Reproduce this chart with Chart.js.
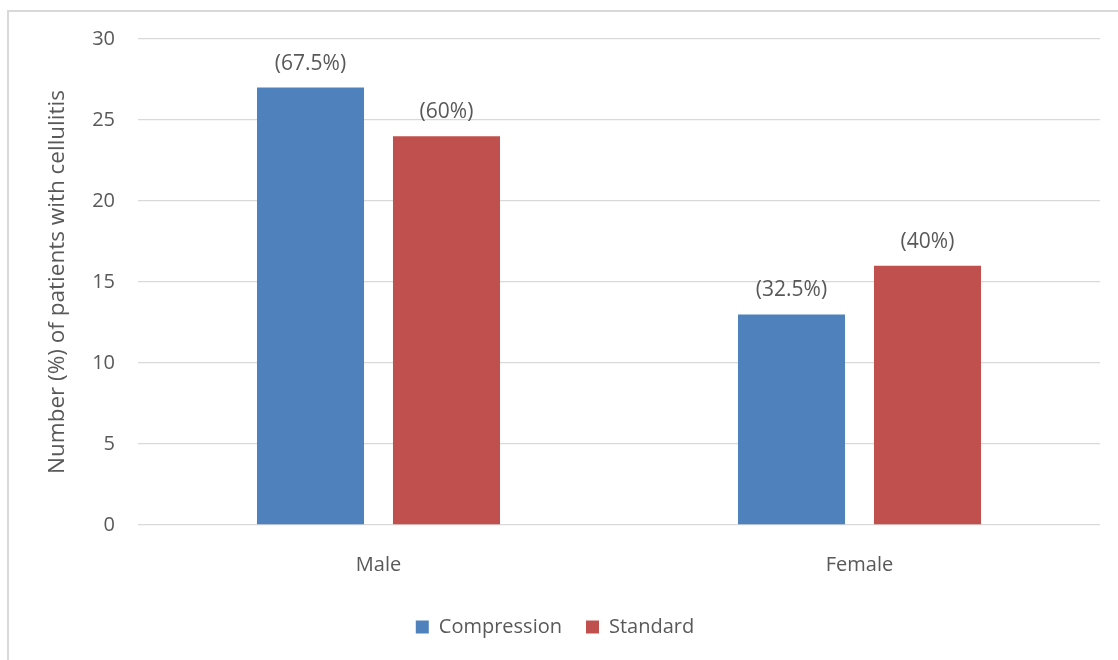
<!DOCTYPE html>
<html>
<head>
<meta charset="utf-8">
<script src="https://cdn.jsdelivr.net/npm/chart.js@4.4.1/dist/chart.umd.min.js"></script>
<style>
  html, body { margin: 0; padding: 0; background: #ffffff; }
  #wrap { position: relative; width: 1118px; height: 660px; }
</style>
</head>
<body>
<div id="wrap"><canvas id="chart" width="1118" height="660"></canvas></div>
<script>
// Cellulitis by sex, per treatment arm
const categories = ['Male', 'Female'];
const compression = [27, 13];
const standard = [24, 16];
const compressionPct = [67.5, 32.5];
const standardPct = [60, 40];
const yTicks = [0, 5, 10, 15, 20, 25, 30];

const TEXT = '#595959';
const GRID = '#d9d9d9';
const FONT = "'Open Sans', sans-serif";

// Light frame around the chart (top and left edges)
const framePlugin = {
  id: 'frame',
  beforeDraw(chart) {
    const ctx = chart.ctx;
    ctx.save();
    ctx.strokeStyle = GRID;
    ctx.lineWidth = 2;
    ctx.beginPath();
    ctx.moveTo(8, 660);
    ctx.lineTo(8, 11);
    ctx.lineTo(1118, 11);
    ctx.stroke();
    ctx.restore();
  }
};

// Percentage labels above each bar
const pctLabels = [compressionPct, standardPct];
const pctPlugin = {
  id: 'pctLabels',
  afterDatasetsDraw(chart) {
    const ctx = chart.ctx;
    ctx.save();
    ctx.fillStyle = TEXT;
    ctx.font = '21px ' + FONT;
    ctx.textAlign = 'center';
    ctx.textBaseline = 'middle';
    chart.data.datasets.forEach((ds, di) => {
      const meta = chart.getDatasetMeta(di);
      meta.data.forEach((bar, i) => {
        ctx.fillText('(' + pctLabels[di][i] + '%)', bar.x, bar.y - 24);
      });
    });
    ctx.restore();
  }
};

// Fixed height for the legend band at the bottom
const legendBand = {
  id: 'legendBand',
  afterInit(chart) {
    const lg = chart.legend;
    if (!lg) return;
    const fit = lg.fit.bind(lg);
    lg.fit = function () { fit(); this.height = 67; };
  }
};

new Chart(document.getElementById('chart'), {
  type: 'bar',
  data: {
    labels: categories,
    datasets: [
      { label: 'Compression', data: compression, backgroundColor: '#4f81bd',
        categoryPercentage: 0.5655, barPercentage: 0.787 },
      { label: 'Standard', data: standard, backgroundColor: '#c0504d',
        categoryPercentage: 0.5655, barPercentage: 0.787 }
    ]
  },
  options: {
    responsive: false,
    animation: false,
    layout: { padding: { top: 39, left: 10, right: 18, bottom: 0 } },
    scales: {
      x: {
        grid: { display: false },
        border: { display: false },
        ticks: { color: TEXT, font: { family: FONT, size: 20 }, padding: 20 },
        afterFit(scale) { scale.height = 68; }
      },
      y: {
        min: 0, max: 30,
        afterBuildTicks(scale) { scale.ticks = yTicks.map(v => ({ value: v })); },
        grid: { color: GRID, lineWidth: 1.3, drawTicks: false },
        border: { display: false },
        ticks: { color: TEXT, font: { family: FONT, size: 20 }, padding: 23 },
        title: {
          display: true,
          text: 'Number (%) of patients with cellulitis',
          color: TEXT,
          font: { family: FONT, size: 22.5 },
          padding: { top: 34, bottom: 0 }
        },
        afterFit(scale) { scale.width = 128; }
      }
    },
    plugins: {
      legend: {
        position: 'bottom',
        labels: {
          color: TEXT,
          font: { family: FONT, size: 20 },
          boxWidth: 13, boxHeight: 13,
          padding: 24
        }
      },
      tooltip: { enabled: false }
    }
  },
  plugins: [framePlugin, pctPlugin, legendBand]
});
</script>
</body>
</html>
